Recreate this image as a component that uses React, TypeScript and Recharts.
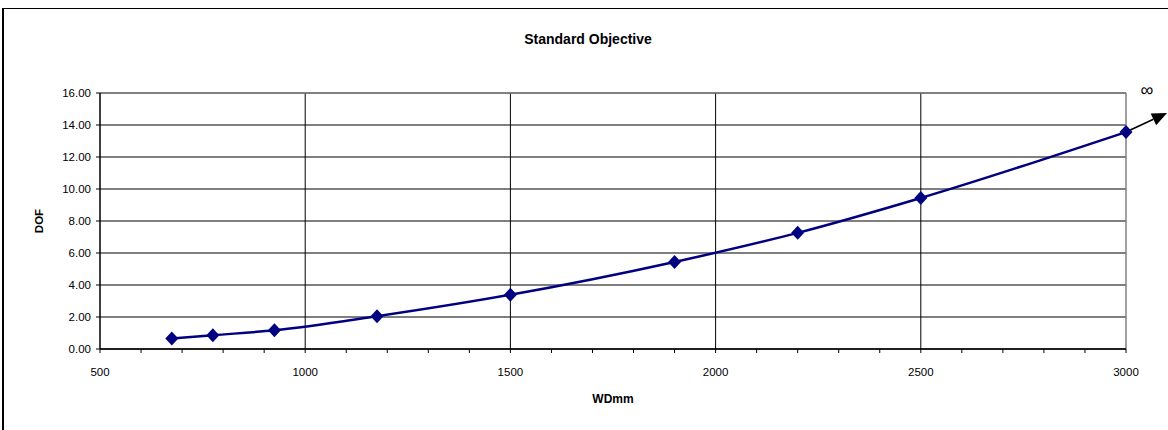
import React from 'react';
import { LineChart, Line, XAxis, YAxis, CartesianGrid, ReferenceLine } from 'recharts';

const wdValues = [675, 775, 925, 1175, 1500, 1900, 2200, 2500, 3000];
const dofValues = [0.65, 0.86, 1.17, 2.05, 3.39, 5.44, 7.26, 9.44, 13.56];
const yTicks = [0, 2, 4, 6, 8, 10, 12, 14, 16];
const xTicks = [500, 600, 700, 800, 900, 1000, 1100, 1200, 1300, 1400, 1500, 1600, 1700, 1800, 1900, 2000, 2100, 2200, 2300, 2400, 2500, 2600, 2700, 2800, 2900, 3000];
const xGrid = [1000, 1500, 2000, 2500];
const arrowEnd = { x: 3100, y: 14.75 };

const data = wdValues.map((wd, i) => ({ wd, dof: dofValues[i] }));

const FONT = 'Arial, "Liberation Sans", sans-serif';

const Diamond = (props: any) => {
  const { cx, cy } = props;
  if (cx == null || cy == null) return null;
  const w = 6.5;
  const h = 7;
  return (
    <polygon
      points={`${cx},${cy - h} ${cx + w},${cy} ${cx},${cy + h} ${cx - w},${cy}`}
      fill="#000080"
      stroke="none"
    />
  );
};

const ArrowShape = (props: any) => {
  const { x1, y1, x2, y2 } = props;
  const dx = x2 - x1;
  const dy = y2 - y1;
  const len = Math.sqrt(dx * dx + dy * dy) || 1;
  const ux = dx / len;
  const uy = dy / len;
  const headLen = 15;
  const headHalf = 6.5;
  const bx = x2 - ux * headLen;
  const by = y2 - uy * headLen;
  const px = -uy;
  const py = ux;
  return (
    <g>
      <line x1={x1} y1={y1} x2={bx} y2={by} stroke="#000" strokeWidth={1.6} />
      <polygon
        points={`${x2},${y2} ${bx + px * headHalf},${by + py * headHalf} ${bx - px * headHalf},${by - py * headHalf}`}
        fill="#000"
      />
      <text x={x2 - 20} y={y2 - 17} textAnchor="middle" fontSize={18} fontFamily={FONT} fill="#000">
        ∞
      </text>
    </g>
  );
};

const YLabel = (props: any) => {
  const vb = props.viewBox || {};
  const x = (vb.x ?? 0) + 43;
  const y = (vb.y ?? 0) + (vb.height ?? 0) / 2;
  return (
    <text
      x={x}
      y={y}
      transform={`rotate(-90 ${x} ${y})`}
      textAnchor="middle"
      fontSize={11.5}
      fontWeight="bold"
      fontFamily={FONT}
      fill="#000"
    >
      DOF
    </text>
  );
};

const XLabel = (props: any) => {
  const vb = props.viewBox || {};
  const x = (vb.x ?? 0) + (vb.width ?? 0) / 2;
  const y = (vb.y ?? 0) + 54;
  return (
    <text x={x} y={y} textAnchor="middle" fontSize={12} fontWeight="bold" fontFamily={FONT} fill="#000">
      WDmm
    </text>
  );
};

export default function App() {
  return (
    <div style={{ position: 'absolute', left: 0, top: 0, width: 1168, height: 430, overflow: 'hidden', background: '#fff' }}>
      <div
        style={{
          position: 'absolute',
          left: 2,
          top: 8,
          width: 1200,
          height: 440,
          borderTop: '1px solid #000',
          borderLeft: '2px solid #000',
        }}
      />
      <div
        style={{
          position: 'absolute',
          left: 0,
          top: 32,
          width: 1176,
          textAlign: 'center',
          fontFamily: FONT,
          fontSize: 14,
          lineHeight: '14px',
          fontWeight: 'bold',
          color: '#000',
        }}
      >
        Standard Objective
      </div>
      <div style={{ position: 'absolute', left: 0, top: 0 }}>
        <LineChart width={1168} height={430} data={data} margin={{ top: 93, right: 42, bottom: 51, left: 0 }}>
          <CartesianGrid horizontal vertical={false} stroke="#000" strokeWidth={1} />
          {xGrid.map((v) => (
            <ReferenceLine key={v} x={v} stroke="#000" strokeWidth={1} />
          ))}
          <ReferenceLine y={16} stroke="#808080" strokeWidth={1.5} />
          <ReferenceLine x={3000} stroke="#808080" strokeWidth={1.5} />
          <XAxis
            type="number"
            dataKey="wd"
            domain={[500, 3000]}
            ticks={xTicks}
            interval={0}
            tickFormatter={(v: number) => (v % 500 === 0 ? String(v) : '')}
            tickSize={4}
            tickMargin={15}
            height={30}
            axisLine={{ stroke: '#000', strokeWidth: 1.5 }}
            tickLine={{ stroke: '#000' }}
            tick={{ fontSize: 11.5, fill: '#000', fontFamily: FONT }}
            label={{ content: XLabel }}
          />
          <YAxis
            type="number"
            domain={[0, 16]}
            ticks={yTicks}
            interval={0}
            tickFormatter={(v: number) => v.toFixed(2)}
            width={100}
            tickSize={4}
            tickMargin={5}
            axisLine={{ stroke: '#000', strokeWidth: 1.5 }}
            tickLine={{ stroke: '#000' }}
            tick={{ fontSize: 11.5, fill: '#000', fontFamily: FONT }}
            label={{ content: YLabel }}
          />
          <ReferenceLine
            segment={[{ x: wdValues[wdValues.length - 1], y: dofValues[dofValues.length - 1] }, arrowEnd]}
            ifOverflow="visible"
            shape={ArrowShape}
          />
          <Line
            type="monotone"
            dataKey="dof"
            stroke="#000080"
            strokeWidth={2.5}
            dot={<Diamond />}
            activeDot={false}
            isAnimationActive={false}
          />
        </LineChart>
      </div>
    </div>
  );
}
